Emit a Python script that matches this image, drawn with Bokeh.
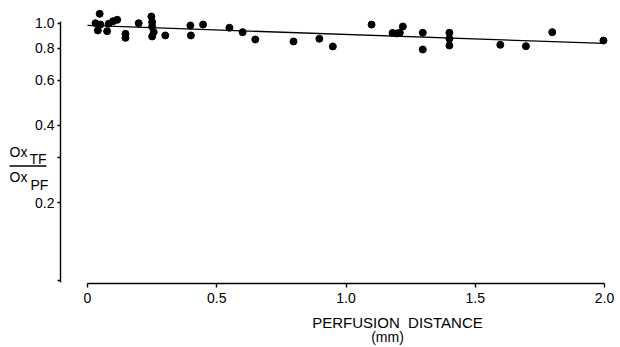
import math
from bokeh.plotting import figure
from bokeh.models import FixedTicker, PrintfTickFormatter, Label, Arrow, Range1d
from bokeh.embed import file_html
from bokeh.resources import INLINE

# ---- data ----
distance = [0.047, 0.031, 0.05, 0.04, 0.076, 0.082, 0.099, 0.115, 0.147, 0.147,
            0.198, 0.247, 0.25, 0.25, 0.256, 0.25, 0.301, 0.398, 0.40, 0.447,
            0.549, 0.60, 0.649, 0.797, 0.897, 0.949, 1.099, 1.18, 1.196, 1.208,
            1.22, 1.297, 1.297, 1.40, 1.40, 1.40, 1.597, 1.696, 1.798, 1.996]
ratio = [1.088, 1.00, 0.988, 0.937, 0.931, 0.995, 1.018, 1.031, 0.909, 0.877,
         1.00, 1.062, 1.009, 0.971, 0.923, 0.888, 0.896, 0.98, 0.896, 0.988,
         0.96, 0.923, 0.864, 0.849, 0.87, 0.812, 0.988, 0.916, 0.912, 0.918,
         0.971, 0.918, 0.79, 0.918, 0.87, 0.819, 0.824, 0.814, 0.923, 0.856]
fit_distance = [0.0, 2.0]
fit_ratio = [0.98, 0.834]

x_ticks = [0, 0.5, 1.0, 1.5, 2.0]
x_tick_labels = ["0", "0.5", "1.0", "1.5", "2.0"]
y_ticks = [0.1, 0.2, 0.3, 0.4, 0.6, 0.8, 1.0]
y_tick_labels = ["", "0.2", "", "0.4", "0.6", "0.8", "1.0"]

FONT = "Liberation Sans"

# ---- layout: frame covers whole canvas, axes placed with fixed_location ----
W, H = 620, 347
X_ORIGIN_PX, X_PX_PER_UNIT = 87.0, 258.5     # page px of x=0, px per mm
Y_ONE_PX, Y_PX_PER_DECADE = 22.7, 257.0      # page px of y=1.0, px per decade


def xd(px):
    return (px - X_ORIGIN_PX) / X_PX_PER_UNIT


def yd(py):
    return 10 ** (-(py - Y_ONE_PX) / Y_PX_PER_DECADE)


p = figure(width=W, height=H, output_backend="svg", toolbar_location=None,
           x_range=Range1d(xd(0), xd(W)), y_range=Range1d(yd(H), yd(0)),
           y_axis_type="log", min_border=0,
           min_border_left=0, min_border_right=0,
           min_border_top=0, min_border_bottom=0)
p.outline_line_color = None
p.xgrid.visible = False
p.ygrid.visible = False
p.background_fill_color = "white"
p.border_fill_color = "white"

# x axis
xa = p.xaxis[0]
xa.fixed_location = yd(283)
xa.ticker = FixedTicker(ticks=x_ticks)
xa.formatter = PrintfTickFormatter(format="%.1f")
xa.major_label_overrides = {t: s for t, s in zip(x_ticks, x_tick_labels)}
xa.bounds = (0, 2)
xa.major_tick_in = 0
xa.major_tick_out = 4
xa.minor_tick_line_color = None
xa.axis_line_width = 1.4
xa.major_tick_line_width = 1.4
xa.major_label_standoff = 5
xa.major_label_text_font = FONT
xa.major_label_text_font_size = "14px"
xa.major_label_text_color = "black"
xa.axis_line_color = "black"
xa.major_tick_line_color = "black"

# y axis
ya = p.yaxis[0]
ya.fixed_location = xd(60)
ya.ticker = FixedTicker(ticks=y_ticks)
ya.formatter = PrintfTickFormatter(format="%.1f")
ya.major_label_overrides = {t: s for t, s in zip(y_ticks, y_tick_labels)}
ya.bounds = (yd(282), yd(20.7))
ya.major_tick_in = 0
ya.major_tick_out = 3
ya.minor_tick_line_color = None
ya.axis_line_width = 1.4
ya.major_tick_line_width = 1.4
ya.major_label_standoff = 3
ya.major_label_text_font = FONT
ya.major_label_text_font_size = "14px"
ya.major_label_text_color = "black"
ya.axis_line_color = "black"
ya.major_tick_line_color = "black"

# regression line and points
p.line(fit_distance, fit_ratio, line_color="black", line_width=1.3)
p.scatter(distance, ratio, size=7, marker="circle", fill_color="black", line_color="black")


def lab(text, px, py, size, align="left"):
    p.add_layout(Label(x=xd(px), y=yd(py), text=text, text_font=FONT,
                       text_font_size=size, text_align=align,
                       text_baseline="middle", text_color="black"))


# y-axis fraction label  Ox_TF / Ox_PF
lab("Ox", 9, 151, "14px")
lab("TF", 29, 158.5, "14px")
lab("Ox", 9, 176, "14px")
lab("PF", 30, 184, "14px")
p.add_layout(Arrow(end=None, start=None, x_start=xd(9), y_start=yd(165.5),
                   x_end=xd(46), y_end=yd(165.5), line_color="black", line_width=1.3))

# x-axis title
lab("PERFUSION\u00a0\u00a0DISTANCE", 397, 322, "15px", "center")
lab("(mm)", 387, 336, "14px", "center")

open("out.html", "w").write(file_html(p, INLINE))
